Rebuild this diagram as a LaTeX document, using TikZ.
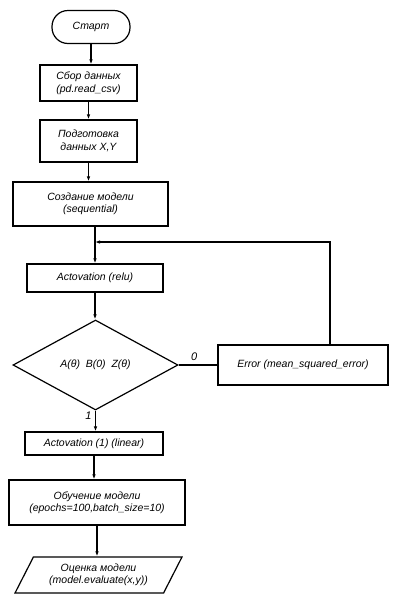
\documentclass[tikz,border=0pt]{standalone}
\usepackage{fontspec}
\setmainfont{Liberation Sans}
\usetikzlibrary{shapes.geometric,arrows.meta}
\tikzset{
  blok/.style={draw,line width=1.2pt,inner sep=0pt,align=center,
    font=\itshape\fontsize{10.5}{12.5}\selectfont},
  metka/.style={font=\itshape\fontsize{11}{13}\selectfont},
  pot/.style={line width=1.2pt,-{Latex[length=5pt,width=3.5pt]}},
  lin/.style={line width=1.2pt}
}
\begin{document}
\begin{tikzpicture}[x=1pt,y=-1pt]
		\useasboundingbox (0,0) rectangle (397,595);
		\node [blok,rounded corners=16pt,minimum width=78pt,minimum height=33pt] (start) at (91,27) {Старт};
		\node [blok,minimum width=97pt,minimum height=36pt] (sbor) at (88.5,83) {Сбор данных\\(pd.read\_csv)};
		\node [blok,minimum width=97pt,minimum height=42pt] (podg) at (88.5,141) {Подготовка\\данных X,Y};
		\node [blok,minimum width=155pt,minimum height=44pt] (model) at (90.5,204) {Создание модели\\(sequential)};
		\node [blok,minimum width=136pt,minimum height=28pt] (relu) at (95,278) {Actovation (relu)};
		\node [blok,diamond,minimum width=165pt,minimum height=90pt] (usl) at (95.5,365) {A(θ)\ \ B(0)\ \ Z(θ)};
		\node [blok,minimum width=170pt,minimum height=40pt] (err) at (303,365) {Error (mean\_squared\_error)};
		\node [blok,minimum width=138pt,minimum height=23pt] (linear) at (94,443.5) {Actovation (1) (linear)};
		\node [blok,minimum width=176pt,minimum height=45pt] (fit) at (97,502.5) {Обучение модели\\(epochs=100,batch\_size=10)};
		\node [blok,trapezium,trapezium left angle=58,trapezium right angle=122,trapezium stretches=true,
			minimum width=167pt,minimum height=36pt] (ocen) at (98.5,575) {Оценка модели\\(model.evaluate(x,y))};
		\coordinate (join) at (95,242);
		% main line
		\draw [pot] (start.south) -- (start.south |- sbor.north);
		\draw [pot] (sbor.south) -- (sbor.south |- podg.north);
		\draw [pot] (podg.south) -- (podg.south |- model.north);
		\draw [pot] (model.south -| join) -- (join |- relu.north);
		\draw [pot] (relu.south) -- (relu.south |- usl.north);
		\draw [pot] (usl.south) -- node [pos=0.25,left,metka] {1} (usl.south |- linear.north);
		\draw [pot] (linear.south) -- (linear.south |- fit.north);
		\draw [pot] (fit.south) -- (fit.south |- ocen.north);
		% loop back
		\draw [lin] (usl.east) -- node [above,pos=0.4,metka] {0} (err.west);
		\draw [pot] (err.north -| 330,0) |- (join);
\end{tikzpicture}
\end{document}
